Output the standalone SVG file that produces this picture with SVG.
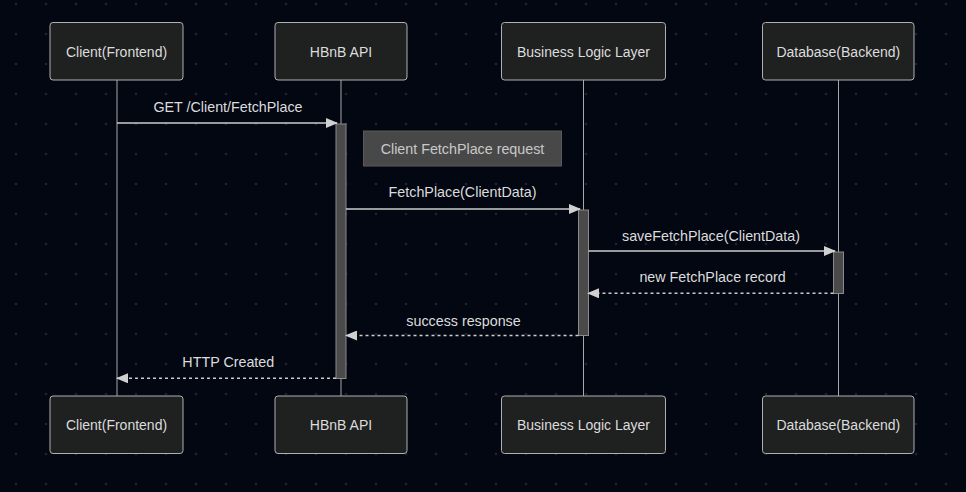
<svg xmlns="http://www.w3.org/2000/svg" width="966" height="492" viewBox="0 0 966 492">
<style>
  text { font-family: "Liberation Sans", Arial, sans-serif; font-size: 14.3px; fill: #dcdcdc; text-anchor: middle; dominant-baseline: central; }
  .actor rect { fill: #1f2020; stroke: #b0b0b0; stroke-width: 1; }
  .actor text { font-size: 14px; }
  .life { stroke: #a8a8a8; stroke-width: 1; }
  .act { fill: #4a4a4a; stroke: #8a8a8a; stroke-width: 1; }
  .msg { stroke: #cccccc; stroke-width: 1.5; fill: none; }
  .dash { stroke-dasharray: 3 3; }
  .note rect { fill: #484848; stroke: #5a5a5a; stroke-width: 1; }
  .note text { fill: #c8c8c8; }
</style>
<defs>
  <pattern id="dots" patternUnits="userSpaceOnUse" x="0" y="0" width="30" height="30">
    <circle cx="16" cy="4" r="1.3" fill="#1d2331"/>
  </pattern>
  <marker id="arrow" viewBox="0 0 12 10" refX="11" refY="5" markerWidth="12" markerHeight="10" markerUnits="userSpaceOnUse" orient="auto">
    <path d="M0,0 L12,5 L0,10 z" fill="#d0d0d0"/>
  </marker>
</defs>
<rect x="0" y="0" width="966" height="492" fill="#030712"/>
<rect x="0" y="0" width="966" height="492" fill="url(#dots)"/>

<g id="lifelines">
  <line class="life" x1="117" y1="80" x2="117" y2="396"/>
  <line class="life" x1="341" y1="80" x2="341" y2="396"/>
  <line class="life" x1="583.5" y1="80" x2="583.5" y2="396"/>
  <line class="life" x1="838.5" y1="80" x2="838.5" y2="396"/>
</g>

<g id="actor-client-top" class="actor"><rect x="50" y="22.5" width="133" height="57.5" rx="3"/><text x="116.5" y="52">Client(Frontend)</text></g>
<g id="actor-api-top" class="actor"><rect x="275" y="22.5" width="132" height="57.5" rx="3"/><text x="341" y="52">HBnB API</text></g>
<g id="actor-bll-top" class="actor"><rect x="501.5" y="22.5" width="164" height="57.5" rx="3"/><text x="583.5" y="52">Business Logic Layer</text></g>
<g id="actor-db-top" class="actor"><rect x="762.5" y="22.5" width="151.5" height="57.5" rx="3"/><text x="838.3" y="52">Database(Backend)</text></g>

<g id="actor-client-bottom" class="actor"><rect x="50" y="396" width="133" height="57.5" rx="3"/><text x="116.5" y="425">Client(Frontend)</text></g>
<g id="actor-api-bottom" class="actor"><rect x="275" y="396" width="132" height="57.5" rx="3"/><text x="341" y="425">HBnB API</text></g>
<g id="actor-bll-bottom" class="actor"><rect x="501.5" y="396" width="164" height="57.5" rx="3"/><text x="583.5" y="425">Business Logic Layer</text></g>
<g id="actor-db-bottom" class="actor"><rect x="762.5" y="396" width="151.5" height="57.5" rx="3"/><text x="838.3" y="425">Database(Backend)</text></g>

<g id="activations">
  <rect class="act" x="336" y="124" width="10" height="254.5"/>
  <rect class="act" x="578.5" y="210" width="10" height="125.5"/>
  <rect class="act" x="833.5" y="252" width="10" height="41.5"/>
</g>

<g id="note" class="note">
  <rect x="363.5" y="131" width="198" height="35"/>
  <text x="462.5" y="149">Client FetchPlace request</text>
</g>

<g id="connectors">
  <line class="msg" x1="117" y1="123" x2="337" y2="123" marker-end="url(#arrow)"/>
  <text x="228" y="107">GET /Client/FetchPlace</text>
  <line class="msg" x1="346" y1="209" x2="580" y2="209" marker-end="url(#arrow)"/>
  <text x="462.5" y="191.5">FetchPlace(ClientData)</text>
  <line class="msg" x1="588.5" y1="251" x2="835" y2="251" marker-end="url(#arrow)"/>
  <text x="711" y="235.5">saveFetchPlace(ClientData)</text>
  <line class="msg dash" x1="833.5" y1="293.3" x2="588" y2="293.3" marker-end="url(#arrow)"/>
  <text x="712.5" y="277">new FetchPlace record</text>
  <line class="msg dash" x1="578.5" y1="335.5" x2="346" y2="335.5" marker-end="url(#arrow)"/>
  <text x="463.5" y="320.5">success response</text>
  <line class="msg dash" x1="336" y1="378.3" x2="117" y2="378.3" marker-end="url(#arrow)"/>
  <text x="228.3" y="362">HTTP Created</text>
</g>
</svg>
